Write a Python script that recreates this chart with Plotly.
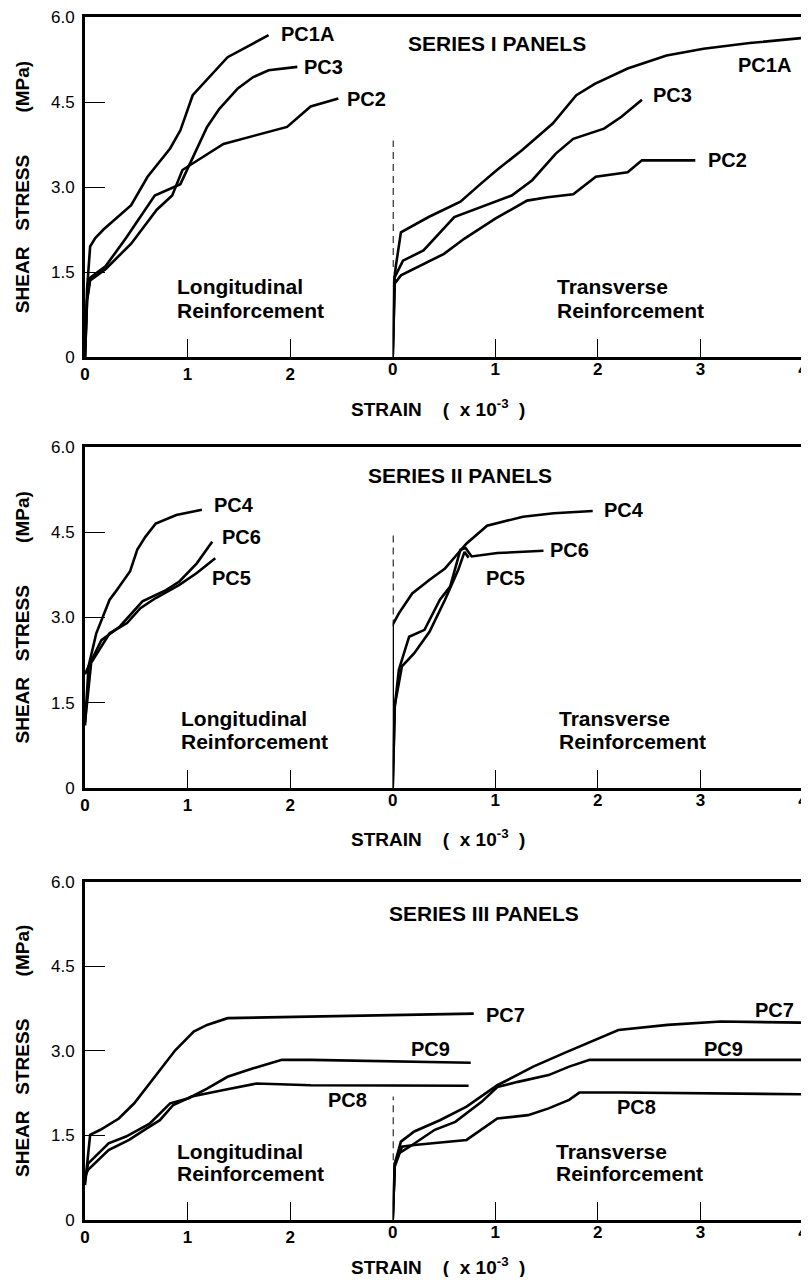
import plotly.graph_objects as go

# page body has an 8px margin; figure is sized/offset to compensate
W, H = 801, 1269
ML, MR, MT, MB = 77, 6, 9, 57

# ---------------- data ----------------
x_ticks_long = [0, 1, 2]
x_ticks_trans = [0, 1, 2, 3, 4]
y_ticks = [0, 1.5, 3.0, 4.5, 6.0]
y_ticklabels = ["0", "1.5", "3.0", "4.5", "6.0"]

# Series I - longitudinal
s1_long_pc1a_strain = [0, 0.02, 0.05, 0.10, 0.18, 0.45, 0.61, 0.83, 0.93, 1.05, 1.39, 1.79]
s1_long_pc1a_stress = [0, 1.20, 1.95, 2.10, 2.25, 2.68, 3.18, 3.68, 4.00, 4.62, 5.29, 5.68]
s1_long_pc3_strain = [0, 0.02, 0.05, 0.20, 0.40, 0.68, 0.93, 1.06, 1.19, 1.31, 1.49, 1.64, 1.79, 2.07]
s1_long_pc3_stress = [0, 1.00, 1.40, 1.60, 2.10, 2.85, 3.05, 3.55, 4.06, 4.38, 4.74, 4.94, 5.06, 5.12]
s1_long_pc2_strain = [0, 0.02, 0.05, 0.20, 0.45, 0.70, 0.85, 0.95, 1.08, 1.35, 1.97, 2.20, 2.47]
s1_long_pc2_stress = [0, 1.00, 1.35, 1.55, 2.00, 2.60, 2.85, 3.30, 3.45, 3.76, 4.06, 4.42, 4.56]
# Series I - transverse
s1_trans_pc1a_strain = [0, 0.01, 0.03, 0.08, 0.35, 0.66, 0.86, 1.01, 1.26, 1.56, 1.79, 1.97, 2.29, 2.67, 3.03, 3.48, 4.00]
s1_trans_pc1a_stress = [0, 1.30, 1.60, 2.20, 2.47, 2.74, 3.06, 3.29, 3.65, 4.12, 4.62, 4.82, 5.09, 5.32, 5.44, 5.54, 5.63]
s1_trans_pc3_strain = [0, 0.02, 0.10, 0.30, 0.60, 0.91, 1.16, 1.36, 1.59, 1.76, 2.06, 2.23, 2.43]
s1_trans_pc3_stress = [0, 1.41, 1.70, 1.88, 2.47, 2.68, 2.85, 3.12, 3.59, 3.85, 4.03, 4.24, 4.54]
s1_trans_pc2_strain = [0, 0.02, 0.08, 0.50, 0.70, 1.00, 1.31, 1.51, 1.76, 1.98, 2.29, 2.43, 2.95]
s1_trans_pc2_stress = [0, 1.30, 1.44, 1.82, 2.09, 2.44, 2.76, 2.82, 2.87, 3.18, 3.26, 3.47, 3.47]
s1_dash_stress = [1.59, 3.82]

# Series II - longitudinal
s2_long_pc4_strain = [0, 0.035, 0.11, 0.24, 0.29, 0.44, 0.51, 0.59, 0.69, 0.89, 1.14]
s2_long_pc4_stress = [1.10, 2.14, 2.72, 3.31, 3.43, 3.81, 4.19, 4.42, 4.65, 4.80, 4.89]
s2_long_pc6_strain = [0, 0.035, 0.16, 0.34, 0.56, 0.79, 0.92, 1.09, 1.24]
s2_long_pc6_stress = [2.00, 2.14, 2.60, 2.84, 3.28, 3.48, 3.63, 3.95, 4.33]
s2_long_pc5_strain = [0, 0.06, 0.24, 0.41, 0.54, 0.69, 0.92, 1.09, 1.27]
s2_long_pc5_stress = [1.15, 2.20, 2.72, 2.90, 3.16, 3.34, 3.57, 3.78, 4.04]
# Series II - transverse
s2_trans_pc4_strain = [0, 0.0, 0.06, 0.19, 0.36, 0.51, 0.61, 0.72, 0.92, 1.27, 1.57, 1.95]
s2_trans_pc4_stress = [0, 2.87, 3.07, 3.42, 3.66, 3.86, 4.07, 4.30, 4.61, 4.77, 4.83, 4.87]
s2_trans_pc6_strain = [0, 0.02, 0.06, 0.16, 0.31, 0.46, 0.56, 0.66, 0.71, 0.77, 1.02, 1.47]
s2_trans_pc6_stress = [0, 1.43, 2.08, 2.66, 2.78, 3.31, 3.54, 4.19, 4.22, 4.07, 4.13, 4.17]
s2_trans_pc5_strain = [0, 0.02, 0.09, 0.21, 0.36, 0.51, 0.64, 0.70, 0.74]
s2_trans_pc5_stress = [0, 1.45, 2.14, 2.37, 2.75, 3.31, 3.84, 4.15, 4.05]
s2_dash_stress = [2.84, 4.45]

# Series III - longitudinal
s3_long_pc7_strain = [0, 0.05, 0.15, 0.33, 0.48, 0.68, 0.88, 1.06, 1.19, 1.39, 2.20, 3.79]
s3_long_pc7_stress = [0.62, 1.51, 1.60, 1.80, 2.07, 2.54, 3.01, 3.34, 3.46, 3.58, 3.61, 3.66]
s3_long_pc9_strain = [0, 0.03, 0.23, 0.40, 0.63, 0.83, 1.01, 1.19, 1.39, 1.64, 1.92, 2.20, 3.76]
s3_long_pc9_stress = [0.71, 1.00, 1.36, 1.48, 1.71, 2.07, 2.16, 2.33, 2.54, 2.69, 2.84, 2.84, 2.79]
s3_long_pc8_strain = [0, 0.03, 0.23, 0.43, 0.58, 0.73, 0.86, 1.04, 1.34, 1.67, 2.20, 3.74]
s3_long_pc8_stress = [0.77, 0.89, 1.24, 1.42, 1.60, 1.77, 2.04, 2.19, 2.30, 2.42, 2.39, 2.38]
# Series III - transverse
s3_trans_pc7_strain = [0, 0.02, 0.08, 0.21, 0.46, 0.72, 1.02, 1.37, 1.67, 1.97, 2.20, 2.68, 3.20, 4.00]
s3_trans_pc7_stress = [0, 1.00, 1.39, 1.57, 1.77, 2.01, 2.39, 2.72, 2.96, 3.19, 3.37, 3.46, 3.52, 3.50]
s3_trans_pc9_strain = [0, 0.02, 0.06, 0.19, 0.41, 0.61, 0.87, 1.02, 1.22, 1.52, 1.72, 1.92, 4.00]
s3_trans_pc9_stress = [0, 1.00, 1.18, 1.33, 1.60, 1.74, 2.10, 2.36, 2.45, 2.57, 2.72, 2.84, 2.84]
s3_trans_pc8_strain = [0, 0.02, 0.09, 0.21, 0.72, 1.02, 1.32, 1.52, 1.72, 1.82, 2.22, 4.00]
s3_trans_pc8_stress = [0, 0.95, 1.30, 1.33, 1.42, 1.80, 1.86, 1.98, 2.13, 2.26, 2.26, 2.23]
s3_dash_stress = [1.06, 2.19]

panel_titles = ["SERIES I PANELS", "SERIES II PANELS", "SERIES III PANELS"]
panel_title_pos = [(1.02, 5.53), (0.66, 5.50), (0.89, 5.44)]
strain_title_y = [-0.15, -0.146, -0.136]

FONT = "Liberation Sans, Arial, Helvetica, sans-serif"
INK = "black"
NB = "\u00a0"

# panel pixel boxes in figure coordinates (top, bottom)
panel_px = [(9, 349), (438.7, 780), (873.7, 1212)]
PH = H - MT - MB


def ydom(top, bot):
    return [1 - (bot - MT) / PH, 1 - (top - MT) / PH]


def f(size, bold=True):
    return dict(size=size, family=FONT, color=INK, weight="bold" if bold else "normal")


fig = go.Figure()

panels = [
    dict(
        long=[(s1_long_pc1a_strain, s1_long_pc1a_stress), (s1_long_pc3_strain, s1_long_pc3_stress),
              (s1_long_pc2_strain, s1_long_pc2_stress)],
        trans=[(s1_trans_pc1a_strain, s1_trans_pc1a_stress), (s1_trans_pc3_strain, s1_trans_pc3_stress),
               (s1_trans_pc2_strain, s1_trans_pc2_stress)],
        dash=s1_dash_stress,
        long_labels=[("PC1A", 1.89, 5.70, "left"), ("PC3", 2.12, 5.12, "left"), ("PC2", 2.53, 4.56, "left")],
        trans_labels=[("PC1A", 3.90, 5.15, "right"), ("PC3", 2.52, 4.62, "left"), ("PC2", 3.05, 3.47, "left")],
        txt_long=(0.88, 1.24, 0.82), txt_trans=(1.58, 1.24, 0.82),
    ),
    dict(
        long=[(s2_long_pc4_strain, s2_long_pc4_stress), (s2_long_pc6_strain, s2_long_pc6_stress),
              (s2_long_pc5_strain, s2_long_pc5_stress)],
        trans=[(s2_trans_pc4_strain, s2_trans_pc4_stress), (s2_trans_pc6_strain, s2_trans_pc6_stress),
               (s2_trans_pc5_strain, s2_trans_pc5_stress)],
        dash=s2_dash_stress,
        long_labels=[("PC4", 1.24, 4.98, "left"), ("PC6", 1.32, 4.42, "left"), ("PC5", 1.22, 3.69, "left")],
        trans_labels=[("PC4", 2.04, 4.89, "left"), ("PC6", 1.51, 4.19, "left"), ("PC5", 0.89, 3.69, "left")],
        txt_long=(0.92, 1.23, 0.82), txt_trans=(1.60, 1.23, 0.82),
    ),
    dict(
        long=[(s3_long_pc7_strain, s3_long_pc7_stress), (s3_long_pc9_strain, s3_long_pc9_stress),
              (s3_long_pc8_strain, s3_long_pc8_stress)],
        trans=[(s3_trans_pc7_strain, s3_trans_pc7_stress), (s3_trans_pc9_strain, s3_trans_pc9_stress),
               (s3_trans_pc8_strain, s3_trans_pc8_stress)],
        dash=s3_dash_stress,
        long_labels=[("PC7", 3.89, 3.63, "left"), ("PC9", 3.16, 3.04, "left"), ("PC8", 2.35, 2.13, "left")],
        trans_labels=[("PC7", 3.93, 3.72, "right"), ("PC9", 3.02, 3.04, "left"), ("PC8", 2.17, 2.01, "left")],
        txt_long=(0.88, 1.21, 0.83), txt_trans=(1.57, 1.21, 0.83),
    ),
]

annotations = []
layout = {}
for i, p in enumerate(panels):
    xl = 2 * i + 1
    xr = 2 * i + 2
    yk = i + 1
    xl_id = "x" if xl == 1 else f"x{xl}"
    xr_id = f"x{xr}"
    y_id = "y" if yk == 1 else f"y{yk}"
    for sx, sy in p["long"]:
        fig.add_trace(go.Scatter(x=sx, y=sy, mode="lines", xaxis=xl_id, yaxis=y_id,
                                 line=dict(color=INK, width=2.6), showlegend=False, hoverinfo="skip"))
    for sx, sy in p["trans"]:
        fig.add_trace(go.Scatter(x=sx, y=sy, mode="lines", xaxis=xr_id, yaxis=y_id,
                                 line=dict(color=INK, width=2.6), showlegend=False, hoverinfo="skip"))
    fig.add_trace(go.Scatter(x=[0, 0], y=p["dash"], mode="lines", xaxis=xr_id, yaxis=y_id,
                             line=dict(color=INK, width=2, dash="7px,5px"), showlegend=False,
                             hoverinfo="skip"))

    top, bot = panel_px[i]
    dom = ydom(top, bot)
    xl_key = "xaxis" if xl == 1 else f"xaxis{xl}"
    layout[xl_key] = dict(domain=[0, 1], range=[0, 7], anchor=y_id, showline=True, mirror=True,
                          linecolor=INK, linewidth=2.8, ticks="inside", ticklen=18, tickwidth=1.3,
                          tickcolor=INK, tickvals=x_ticks_long, ticktext=[str(v) for v in x_ticks_long],
                          showgrid=False, zeroline=False, tickfont=f(17), ticklabeloverflow="allow")
    layout[f"xaxis{xr}"] = dict(domain=[3 / 7, 1], range=[0, 4], anchor=y_id, showline=False,
                                ticks="inside", ticklen=18, tickwidth=1.3, tickcolor=INK,
                                tickvals=x_ticks_trans, ticktext=[str(v) for v in x_ticks_trans],
                                showgrid=False, zeroline=False, tickfont=f(17),
                                ticklabeloverflow="allow")
    y_key = "yaxis" if yk == 1 else f"yaxis{yk}"
    layout[y_key] = dict(domain=dom, range=[0, 6], anchor=xl_id, showline=True, mirror=True,
                         linecolor=INK, linewidth=2.8, ticks="inside", ticklen=20, tickwidth=1.3,
                         tickcolor=INK, tickvals=y_ticks, ticktext=y_ticklabels, showgrid=False,
                         zeroline=False, tickfont=f(17, bold=False), ticklabeloverflow="allow",
                         ticklabelstandoff=4,
                         title=dict(text="SHEAR" + NB * 3 + "STRESS" + NB * 8 + "(MPa)",
                                    font=f(19), standoff=17))

    annotations.append(dict(text="STRAIN" + NB * 4 + "(" + NB * 2 + "x" + NB + "10<sup>-3</sup>" + NB * 2 + ")",
                            xref=f"{xl_id} domain", yref=f"{y_id} domain", x=0.492, y=strain_title_y[i],
                            xanchor="center", yanchor="middle", showarrow=False, font=f(19)))
    tx, ty = panel_title_pos[i]
    annotations.append(dict(text=panel_titles[i], xref=xr_id, yref=y_id, x=tx, y=ty, xanchor="center",
                            yanchor="middle", showarrow=False, font=f(21)))
    for (t, lx, ly, anc) in p["long_labels"]:
        annotations.append(dict(text=t, xref=xl_id, yref=y_id, x=lx, y=ly, xanchor=anc, yanchor="middle",
                                showarrow=False, font=f(20)))
    for (t, lx, ly, anc) in p["trans_labels"]:
        annotations.append(dict(text=t, xref=xr_id, yref=y_id, x=lx, y=ly, xanchor=anc, yanchor="middle",
                                showarrow=False, font=f(20)))
    lx, ly1, ly2 = p["txt_long"]
    annotations.append(dict(text="Longitudinal", xref=xl_id, yref=y_id, x=lx, y=ly1, xanchor="left",
                            yanchor="middle", showarrow=False, font=f(21)))
    annotations.append(dict(text="Reinforcement", xref=xl_id, yref=y_id, x=lx, y=ly2, xanchor="left",
                            yanchor="middle", showarrow=False, font=f(21)))
    tx2, ty1, ty2 = p["txt_trans"]
    annotations.append(dict(text="Transverse", xref=xr_id, yref=y_id, x=tx2, y=ty1, xanchor="left",
                            yanchor="middle", showarrow=False, font=f(21)))
    annotations.append(dict(text="Reinforcement", xref=xr_id, yref=y_id, x=tx2, y=ty2, xanchor="left",
                            yanchor="middle", showarrow=False, font=f(21)))

fig.update_layout(width=W, height=H, margin=dict(l=ML, r=MR, t=MT, b=MB, autoexpand=False),
                  paper_bgcolor="white", plot_bgcolor="rgba(0,0,0,0)", showlegend=False,
                  font=dict(family=FONT, color=INK), annotations=annotations, **layout)

fig.write_html("out.html")
